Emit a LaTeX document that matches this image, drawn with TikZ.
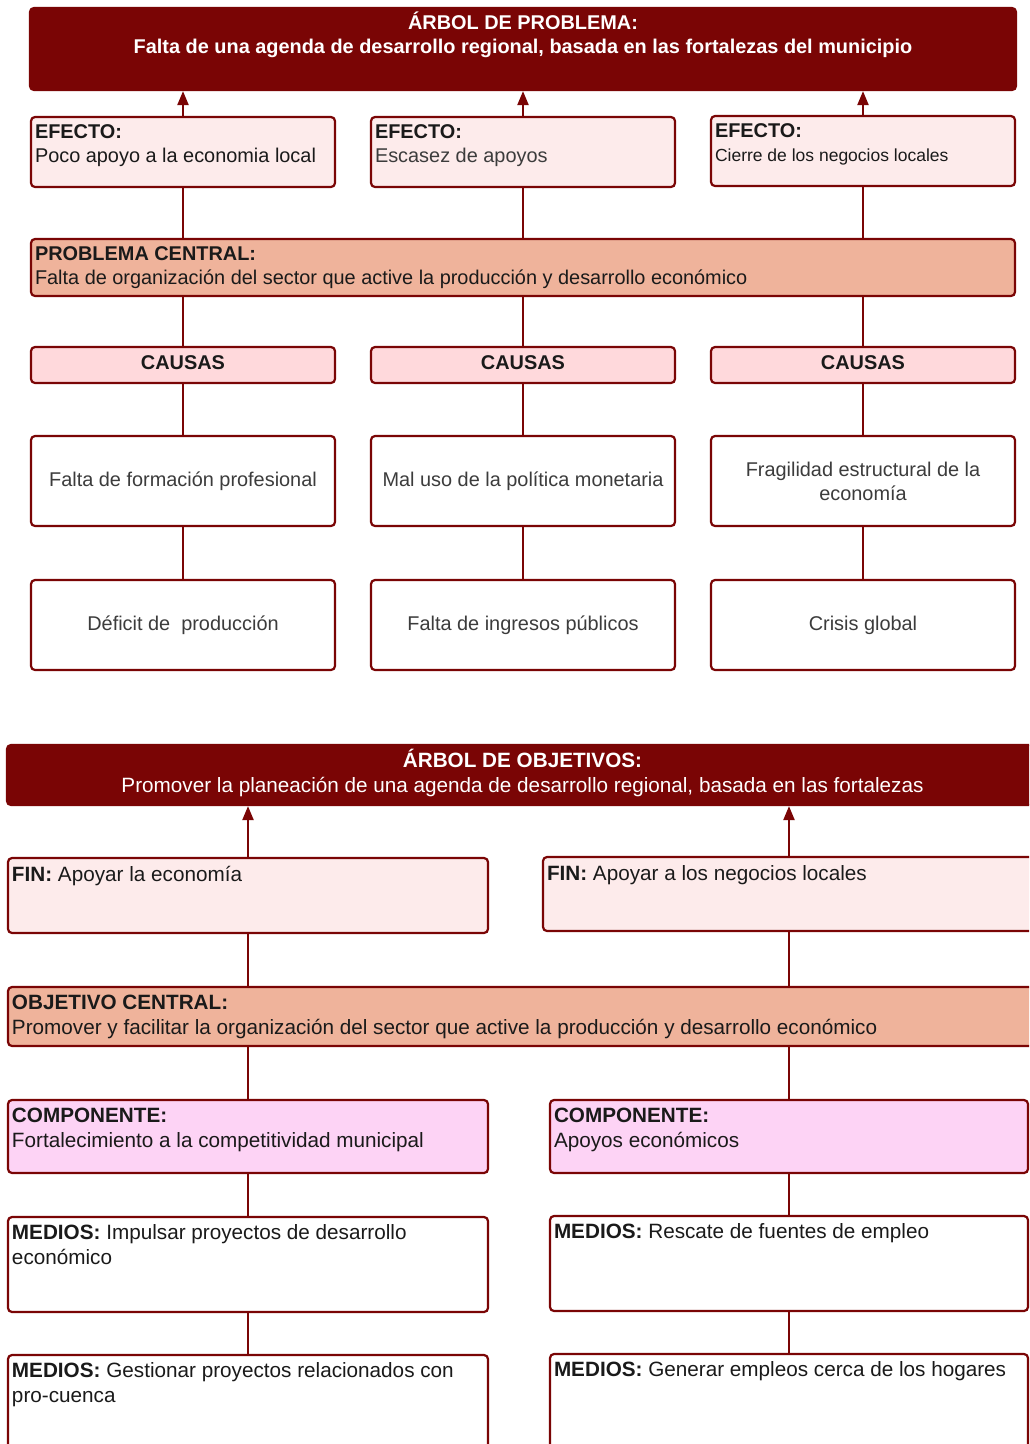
\documentclass[tikz,border=0pt]{standalone}
\usepackage{fontspec}
\setmainfont{Liberation Sans}
\usetikzlibrary{arrows.meta,positioning}
\definecolor{maroon}{HTML}{7A0505}
\definecolor{rose}{HTML}{FDEBEB}
\definecolor{salmon}{HTML}{EFB39B}
\definecolor{blush}{HTML}{FFD9DC}
\definecolor{orchid}{HTML}{FDD3F5}
\definecolor{ink}{HTML}{1A1A1A}
\definecolor{greytext}{HTML}{3C3C3C}
\newcommand{\topfit}[3]{\parbox[c][#1][t]{#2}{\raggedright\strut#3}}
\newcommand{\topmid}[3]{\parbox[c][#1][t]{#2}{\centering\strut#3}}

\begin{document}
\begin{tikzpicture}[x=1pt, y=-1pt, every node/.style={font=\fontsize{19.9}{24}\selectfont, text=ink}, box/.style={draw=maroon, line width=2.2pt, rounded corners=4pt, inner sep=0pt}, head/.style={box, fill=maroon}, effect/.style={box, fill=rose, minimum width=304pt, minimum height=70pt}, central/.style={box, fill=salmon}, causa/.style={box, fill=blush, minimum width=304pt, minimum height=36pt, text depth=4pt, font=\fontsize{19.9}{24}\selectfont\bfseries}, cause/.style={box, fill=white, minimum width=304pt, minimum height=90pt, align=center, text=greytext}, fin/.style={box, fill=rose}, comp/.style={box, fill=orchid, minimum height=73pt}, medio/.style={box, fill=white, minimum height=95pt}, line/.style={maroon, line width=2.2pt}, arr/.style={line, -{Triangle[length=14pt, width=11pt]}}]
\useasboundingbox (0,0) rectangle (1029,1444);
\clip (0,0) rectangle (1029,1444);

% arbol de problema
\node[head, minimum width=986pt, minimum height=82pt] (ptitle) at (523,49) {\topmid{74pt}{978pt}{\color{white}\bfseries ÁRBOL DE PROBLEMA:\\ Falta de una agenda de desarrollo regional, basada en las fortalezas del municipio}};
\node[effect] (e1) at (183,152) {\topfit{60pt}{296pt}{\textbf{EFECTO:}\\ Poco apoyo a la economia local}};
\node[effect] (e2) at (523,152) {\topfit{60pt}{296pt}{\textbf{EFECTO:}\\ {\color{greytext}Escasez de apoyos}}};
\node[effect] (e3) at (863,151) {\topfit{60pt}{296pt}{\textbf{EFECTO:}\\ {\fontsize{17.5}{21}\selectfont Cierre de los negocios locales}}};
\node[central, minimum width=984pt, minimum height=57pt] (pc) at (523,267.5) {\topfit{47pt}{976pt}{\textbf{PROBLEMA CENTRAL:}\\ Falta de organización del sector que active la producción y desarrollo económico}};
\node[causa] (ca1) at (183,365) {CAUSAS};
\node[causa] (ca2) at (523,365) {CAUSAS};
\node[causa] (ca3) at (863,365) {CAUSAS};
\node[cause] (c1) at (183,481) {Falta de formación profesional};
\node[cause] (c2) at (523,481) {Mal uso de la política monetaria};
\node[cause] (c3) at (863,481) {Fragilidad estructural de la\\ economía};
\node[cause] (d1) at (183,625) {Déficit de~ producción};
\node[cause] (d2) at (523,625) {Falta de ingresos públicos};
\node[cause] (d3) at (863,625) {Crisis global};

\foreach \n in {1,2,3}{
  \draw[arr] (e\n.north) -- (e\n.north |- ptitle.south);
  \draw[line] (e\n.south) -- (e\n.south |- pc.north);
  \draw[line] (ca\n.north |- pc.south) -- (ca\n.north);
  \draw[line] (ca\n) -- (c\n);
  \draw[line] (c\n) -- (d\n);
}

% arbol de objetivos
\begin{scope}[every node/.append style={font=\fontsize{20.7}{25}\selectfont}]
\node[head, minimum width=1031pt, minimum height=60pt] (otitle) at (522.5,775) {\topmid{52pt}{1023pt}{\color{white}\textbf{ÁRBOL DE OBJETIVOS:}\\ Promover la planeación de una agenda de desarrollo regional, basada en las fortalezas}};
\node[fin, minimum width=480pt, minimum height=75pt] (f1) at (248,895.5) {\topfit{64pt}{472pt}{\textbf{FIN:} Apoyar la economía}};
\node[fin, minimum width=492pt, minimum height=74pt] (f2) at (789,894) {\topfit{63pt}{484pt}{\textbf{FIN:} Apoyar a los negocios locales}};
\node[central, minimum width=1032pt, minimum height=59pt] (oc) at (524,1016.5) {\topfit{49pt}{1024pt}{\textbf{OBJETIVO CENTRAL:}\\ Promover y facilitar la organización del sector que active la producción y desarrollo económico}};
\node[comp, minimum width=480pt] (k1) at (248,1136.5) {\topfit{63pt}{472pt}{\textbf{COMPONENTE:}\\ Fortalecimiento a la competitividad municipal}};
\node[comp, minimum width=478pt] (k2) at (789,1136.5) {\topfit{63pt}{470pt}{\textbf{COMPONENTE:}\\ Apoyos económicos}};
\node[medio, minimum width=480pt] (m1) at (248,1264.5) {\topfit{85pt}{472pt}{\textbf{MEDIOS:} Impulsar proyectos de desarrollo\\ económico}};
\node[medio, minimum width=478pt] (m2) at (789,1263.5) {\topfit{85pt}{470pt}{\textbf{MEDIOS:} Rescate de fuentes de empleo}};
\node[medio, minimum width=480pt] (n1) at (248,1402.5) {\topfit{85pt}{472pt}{\textbf{MEDIOS:} Gestionar proyectos relacionados con\\ pro-cuenca}};
\node[medio, minimum width=478pt] (n2) at (789,1401.5) {\topfit{85pt}{470pt}{\textbf{MEDIOS:} Generar empleos cerca de los hogares}};
\end{scope}

\draw[arr] (f1.north) -- (f1.north |- otitle.south);
\draw[arr] (f2.north) -- (f2.north |- otitle.south);
\draw[line] (f1.south) -- (f1.south |- oc.north);
\draw[line] (f2.south) -- (f2.south |- oc.north);
\draw[line] (k1.north |- oc.south) -- (k1.north);
\draw[line] (k2.north |- oc.south) -- (k2.north);
\draw[line] (k1) -- (m1);
\draw[line] (k2) -- (m2);
\draw[line] (m1) -- (n1);
\draw[line] (m2) -- (n2);
\end{tikzpicture}
\end{document}
